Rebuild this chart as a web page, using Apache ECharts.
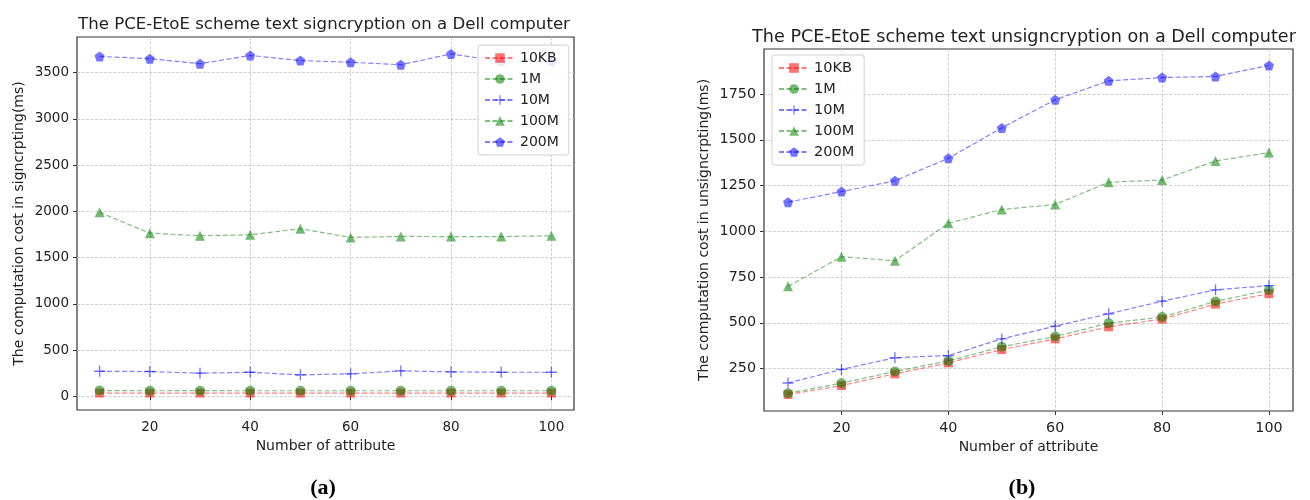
<!DOCTYPE html>
<html>
<head>
<meta charset="utf-8">
<script src="https://cdn.jsdelivr.net/npm/echarts@6/dist/echarts.min.js"></script>
<style>
html,body{margin:0;padding:0;background:#fff;}
#chart{width:1310px;height:500px;}
</style>
</head>
<body>
<div id="chart"></div>
<script>
// ---- data ----
const attributes = [10, 20, 30, 40, 50, 60, 70, 80, 90, 100];
const seriesNames = ['10KB', '1M', '10M', '100M', '200M'];

// (a) signcryption (ms)
const sign10KB = [35, 35, 35, 35, 35, 35, 35, 35, 35, 35];
const sign1M   = [62, 60, 61, 60, 60, 60, 60, 60, 60, 60];
const sign10M  = [271, 268, 250, 260, 232, 243, 275, 264, 260, 260];
const sign100M = [1989, 1764, 1736, 1747, 1812, 1718, 1729, 1727, 1727, 1736];
const sign200M = [3675, 3650, 3596, 3686, 3630, 3612, 3585, 3702, 3622, 3625];

// (b) unsigncryption (ms)
const unsign10KB = [108, 157, 221, 281, 354, 412, 478, 520, 602, 659];
const unsign1M   = [115, 170, 234, 292, 369, 425, 498, 531, 617, 679];
const unsign10M  = [171, 245, 309, 321, 412, 482, 549, 618, 680, 703];
const unsign100M = [699, 861, 839, 1044, 1119, 1146, 1268, 1280, 1384, 1430];
const unsign200M = [1159, 1217, 1276, 1399, 1565, 1719, 1822, 1840, 1846, 1906];

const xTicks = [20, 40, 60, 80, 100];
const yTicksA = [0, 500, 1000, 1500, 2000, 2500, 3000, 3500];
const yTicksB = [250, 500, 750, 1000, 1250, 1500, 1750];

const titleA = 'The PCE-EtoE scheme text signcryption on a Dell computer';
const titleB = 'The PCE-EtoE scheme text unsigncryption on a Dell computer';
const yNameA = 'The computation cost in signcrpting(ms)';
const yNameB = 'The computation cost in unsigncrpting(ms)';
const xName = 'Number of attribute';

// ---- styling ----
const FONT = 'DejaVu Sans';
const RED = '#ff0000', GREEN = '#008000', BLUE = '#0000ff';
const PLUS = 'path://M4.4,0 H5.6 V4.4 H10 V5.6 H5.6 V10 H4.4 V5.6 H0 V4.4 H4.4 Z';
const PENT = 'path://M50,0 L97.6,34.5 L79.4,90.5 L20.6,90.5 L2.4,34.5 Z';
const styles = [
  {color: RED, symbol: 'rect', size: 9},
  {color: GREEN, symbol: 'circle', size: 10},
  {color: BLUE, symbol: PLUS, size: 11},
  {color: GREEN, symbol: 'triangle', size: 10},
  {color: BLUE, symbol: PENT, size: 10}
];

function pairs(vals) { return attributes.map((a, i) => [a, vals[i]]); }

function makeSeries(idx, dataSets) {
  return dataSets.map((vals, k) => ({
    name: seriesNames[k],
    type: 'line',
    xAxisIndex: idx,
    yAxisIndex: idx,
    data: pairs(vals),
    symbol: styles[k].symbol,
    symbolSize: styles[k].size,
    showAllSymbol: true,
    color: styles[k].color,
    itemStyle: {color: styles[k].color, opacity: 0.55},
    lineStyle: {color: styles[k].color, width: 1.2, type: [5, 2.5], opacity: 0.5},
    emphasis: {disabled: true},
    animation: false,
    z: 3
  }));
}

const nameFont = {fontFamily: FONT, fontSize: 14, color: '#222'};
const plain = v => String(v);

function xAxis(idx, fs) {
  return {
    type: 'value', gridIndex: idx, min: 5.5, max: 104.5,
    name: xName, nameLocation: 'middle', nameGap: 29,
    nameTextStyle: nameFont,
    axisLine: {show: false},
    axisTick: {show: true, inside: false, length: 4, customValues: xTicks, lineStyle: {color: '#333'}},
    axisLabel: {customValues: xTicks, margin: 10, formatter: plain, fontFamily: FONT, fontSize: fs, color: '#222'},
    splitLine: {show: true, lineStyle: {color: '#c4c4c4', width: 0.8, type: [3, 1.5]}}
  };
}
function yAxis(idx, min, max, ticks, name, gap, fs) {
  return {
    type: 'value', gridIndex: idx, min: min, max: max,
    name: name, nameLocation: 'middle', nameGap: gap,
    nameTextStyle: nameFont,
    axisLine: {show: false},
    axisTick: {show: true, inside: false, length: 4, customValues: ticks, lineStyle: {color: '#333'}},
    axisLabel: {customValues: ticks, margin: 8, formatter: plain, fontFamily: FONT, fontSize: fs, color: '#222'},
    splitLine: {show: true, lineStyle: {color: '#c4c4c4', width: 0.8, type: [3, 1.5]}}
  };
}

function legend(left, top, fs) {
  return {
    data: seriesNames, orient: 'vertical', left: left, top: top,
    itemWidth: 30, itemHeight: 12, itemGap: 5, padding: [5, 10, 5, 6],
    backgroundColor: 'rgba(255,255,255,0.85)', borderColor: '#d0d0d0', borderWidth: 1, borderRadius: 3,
    textStyle: {fontFamily: FONT, fontSize: fs, color: '#222', lineHeight: 16}, selectedMode: false
  };
}

const chart = echarts.init(document.getElementById('chart'), null, {renderer: 'canvas'});
const seriesA = makeSeries(0, [sign10KB, sign1M, sign10M, sign100M, sign200M]);
const seriesB = makeSeries(1, [unsign10KB, unsign1M, unsign10M, unsign100M, unsign200M]);

const option = {
  backgroundColor: '#fff',
  animation: false,
  title: [
    {text: titleA, left: 319, top: 11, textAlign: 'center',
     textStyle: {fontFamily: FONT, fontSize: 16.6, fontWeight: 'normal', color: '#222'}},
    {text: titleB, left: 1019, top: 23, textAlign: 'center',
     textStyle: {fontFamily: FONT, fontSize: 17.6, fontWeight: 'normal', color: '#222'}},
    {text: '(a)', left: 318, top: 472, textAlign: 'center',
     textStyle: {fontFamily: 'Liberation Serif', fontSize: 22, fontWeight: 'bold', color: '#000'}},
    {text: '(b)', left: 1017, top: 472, textAlign: 'center',
     textStyle: {fontFamily: 'Liberation Serif', fontSize: 22, fontWeight: 'bold', color: '#000'}}
  ],
  grid: [
    {left: 77, top: 37, width: 497, height: 373, show: true, borderColor: '#333', borderWidth: 1.2, backgroundColor: 'transparent'},
    {left: 764, top: 49, width: 529, height: 362, show: true, borderColor: '#333', borderWidth: 1.2, backgroundColor: 'transparent'}
  ],
  xAxis: [xAxis(0, 13.5), xAxis(1, 14.3)],
  yAxis: [
    yAxis(0, -148, 3885, yTicksA, yNameA, 51, 13.5),
    yAxis(1, 18, 1996, yTicksB, yNameB, 53, 14.3)
  ],
  legend: [legend(478, 45, 14), legend(772, 55, 14.5)],
  series: seriesA.concat(seriesB)
};
chart.setOption(option);
</script>
</body>
</html>
